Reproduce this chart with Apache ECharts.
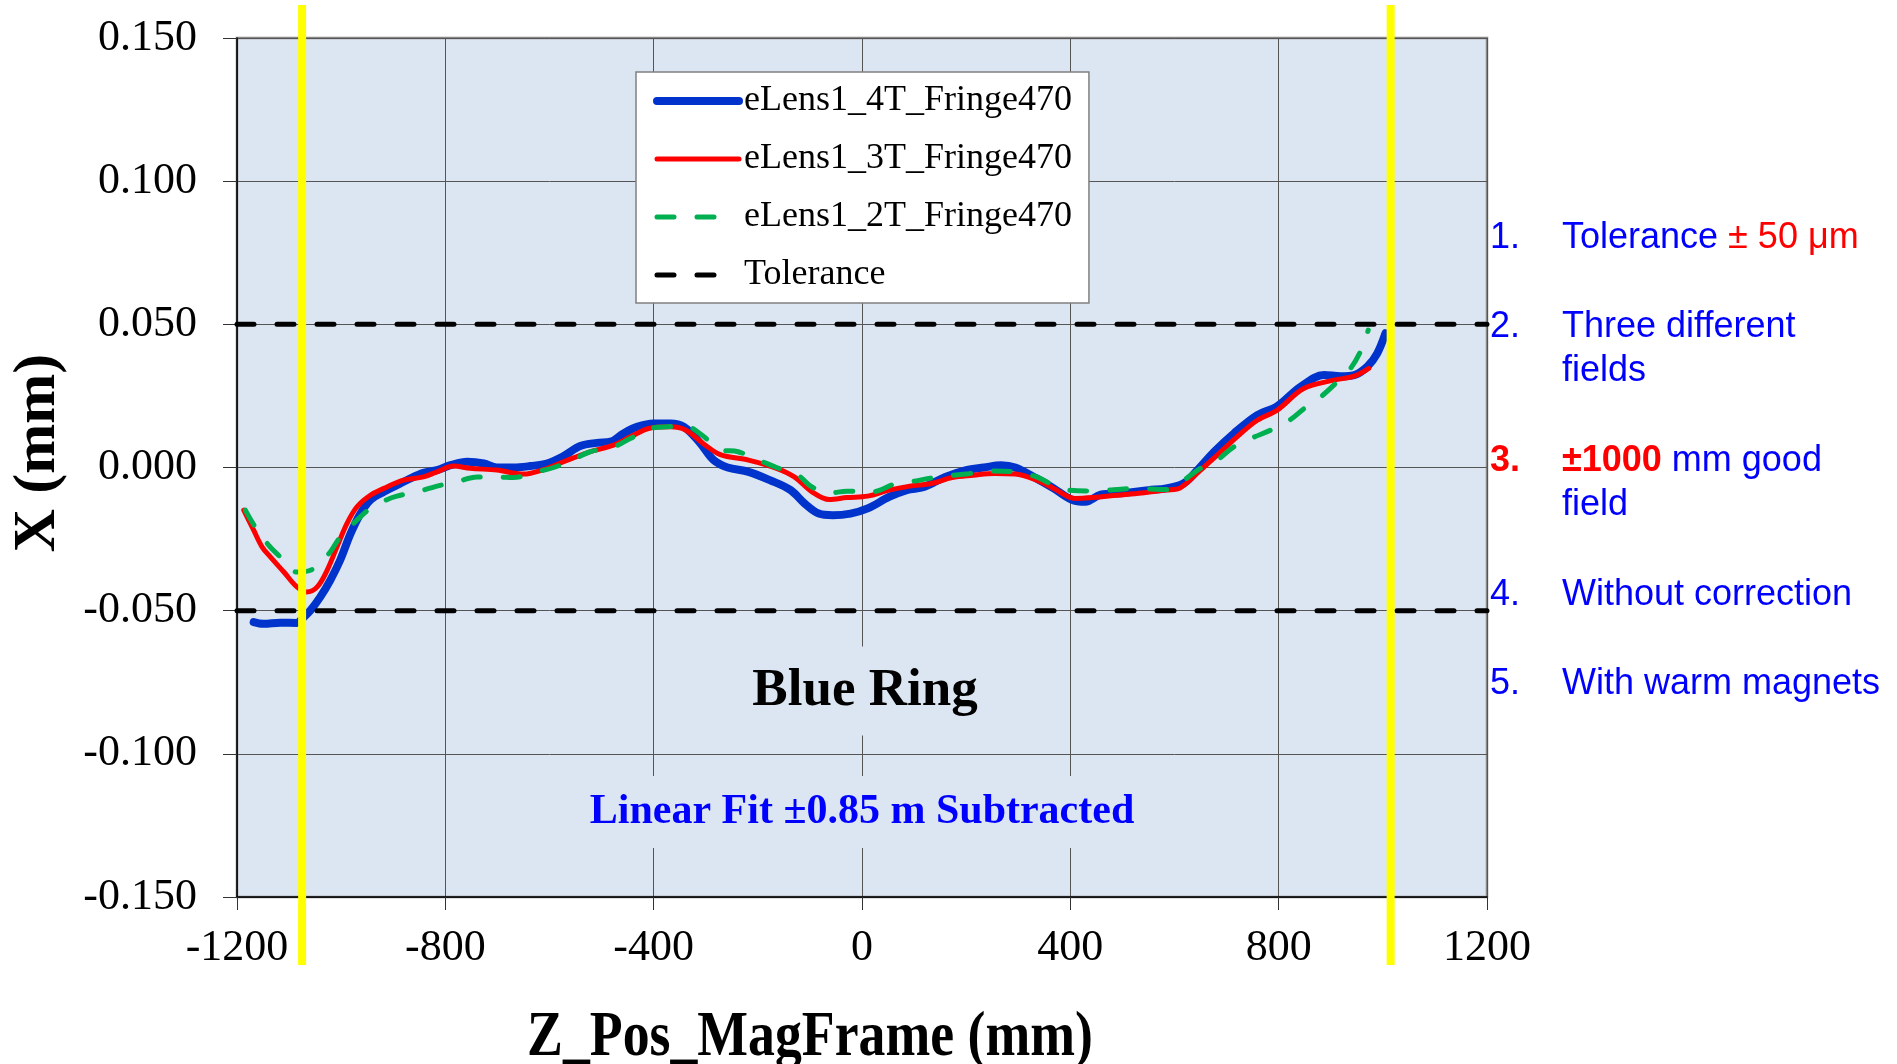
<!DOCTYPE html>
<html>
<head>
<meta charset="utf-8">
<title>Blue Ring - eLens1 X offset</title>
<script src="https://cdn.jsdelivr.net/npm/echarts@6.0.0/dist/echarts.min.js"></script>
<style>
  html, body { margin: 0; padding: 0; background: #fff; }
  #main { width: 1897px; height: 1064px; }
</style>
</head>
<body>
<div id="main"></div>
<script>
// ---- data (Z in mm, X in mm) ----
var z4T = [-1168,-1149,-1117,-1085,-1075,-1059,-1040,-1021,-1002,-982,-963,-944,-918,-893,-867,-842,-816,-790,-758,-726,-701,-669,-637,-605,-573,-541,-509,-483,-458,-432,-400,-368,-342,-312,-285,-258,-218,-177,-137,-110,-83,-56,-22,11,52,86,119,160,200,234,267,294,335,368,402,429,458,503,550,584,618,644,676,714,759,797,842,887,919,945,970,989,1005];
var x4T = [-0.0540,-0.0546,-0.0542,-0.0543,-0.0528,-0.0499,-0.0452,-0.0394,-0.0324,-0.0231,-0.0161,-0.0114,-0.0085,-0.0062,-0.0038,-0.0019,-0.0009,0.0008,0.0020,0.0014,0.0000,0.0000,0.0005,0.0014,0.0040,0.0075,0.0086,0.0090,0.0119,0.0142,0.0154,0.0154,0.0142,0.0088,0.0026,0.0000,-0.0015,-0.0044,-0.0079,-0.0126,-0.0161,-0.0167,-0.0161,-0.0143,-0.0103,-0.0079,-0.0068,-0.0033,-0.0009,0.0000,0.0008,0.0000,-0.0038,-0.0073,-0.0112,-0.0120,-0.0095,-0.0089,-0.0079,-0.0073,-0.0055,-0.0009,0.0055,0.0119,0.0183,0.0214,0.0282,0.0323,0.0319,0.0323,0.0352,0.0398,0.0469];

var z3T = [-1187,-1168,-1152,-1136,-1110,-1085,-1066,-1046,-1027,-1008,-989,-970,-944,-912,-880,-842,-816,-784,-752,-701,-650,-611,-573,-522,-477,-445,-406,-368,-339,-305,-272,-218,-164,-130,-96,-63,-29,11,52,92,133,173,214,254,294,335,368,409,443,490,537,584,612,650,682,720,759,797,848,906,945,973];
var x3T = [-0.0149,-0.0219,-0.0277,-0.0312,-0.0365,-0.0417,-0.0435,-0.0417,-0.0359,-0.0277,-0.0196,-0.0138,-0.0097,-0.0068,-0.0044,-0.0033,-0.0015,0.0005,-0.0003,-0.0009,-0.0023,-0.0007,0.0020,0.0055,0.0078,0.0107,0.0138,0.0142,0.0131,0.0084,0.0045,0.0026,-0.0003,-0.0033,-0.0085,-0.0112,-0.0105,-0.0100,-0.0079,-0.0065,-0.0056,-0.0035,-0.0027,-0.0021,-0.0023,-0.0044,-0.0073,-0.0108,-0.0105,-0.0097,-0.0089,-0.0079,-0.0070,-0.0009,0.0043,0.0107,0.0165,0.0200,0.0276,0.0305,0.0319,0.0346];

var z2T = [-1184,-1165,-1139,-1117,-1085,-1059,-1040,-1021,-1002,-970,-944,-918,-893,-854,-816,-778,-739,-701,-669,-624,-592,-554,-522,-477,-445,-406,-374,-339,-310,-272,-238,-191,-164,-123,-96,-63,-29,18,65,92,146,200,240,294,335,368,395,443,523,584,618,650,682,714,746,784,817,849,881,913,938,957,972];
var x2T = [-0.0149,-0.0208,-0.0272,-0.0312,-0.0365,-0.0359,-0.0330,-0.0295,-0.0243,-0.0184,-0.0143,-0.0117,-0.0100,-0.0085,-0.0065,-0.0050,-0.0033,-0.0033,-0.0035,-0.0015,0.0000,0.0028,0.0055,0.0072,0.0101,0.0136,0.0142,0.0145,0.0117,0.0063,0.0055,0.0020,0.0000,-0.0027,-0.0068,-0.0089,-0.0083,-0.0085,-0.0056,-0.0050,-0.0033,-0.0023,-0.0012,-0.0015,-0.0033,-0.0062,-0.0079,-0.0082,-0.0073,-0.0077,-0.0044,-0.0003,0.0026,0.0072,0.0101,0.0130,0.0160,0.0206,0.0247,0.0300,0.0346,0.0405,0.0480];

var seriesNames = ['eLens1_4T_Fringe470', 'eLens1_3T_Fringe470', 'eLens1_2T_Fringe470', 'Tolerance'];
var seriesColors = ['#0033CC', '#FF0000', '#00B050', '#000000'];
var tolerance = [0.05, -0.05];
var zRange = [-1200, 1200];
var goodFieldEdges = [-1075, 1015];   // yellow markers
var yTicks = [-0.15, 0.15, 0.05];
var xTicks = [-1200, 1200, 400];

var notes = [
  { num: '1.', lines: ['{b|Tolerance }{r|± 50 μm}'] },
  { num: '2.', lines: ['Three different', 'fields'] },
  { num: '3.', lines: ['{rb|±1000}{b| mm good}', 'field'], red: true },
  { num: '4.', lines: ['Without correction'] },
  { num: '5.', lines: ['With warm magnets'] }
];

function zip(zs, xs) {
  return zs.map(function (z, i) { return [z, xs[i]]; });
}

var SERIF = '"Liberation Serif", "Times New Roman", serif';
var SANS = '"Liberation Sans", Arial, sans-serif';
var BLUE_TXT = '#0000FF';
var RED_TXT = '#FF0000';
var DASH = [17, 23];

var chart = echarts.init(document.getElementById('main'));

var series = [
  {
    name: seriesNames[0], type: 'line', data: zip(z4T, x4T),
    symbol: 'none', smooth: 0.35, z: 3,
    lineStyle: { color: seriesColors[0], width: 8, cap: 'round', join: 'round' },
    itemStyle: { color: seriesColors[0] }
  },
  {
    name: seriesNames[1], type: 'line', data: zip(z3T, x3T),
    symbol: 'none', smooth: 0.35, z: 4,
    lineStyle: { color: seriesColors[1], width: 5, cap: 'round', join: 'round' },
    itemStyle: { color: seriesColors[1] }
  },
  {
    name: seriesNames[2], type: 'line', data: zip(z2T, x2T),
    symbol: 'none', smooth: 0.35, z: 5,
    lineStyle: { color: seriesColors[2], width: 5, type: DASH, cap: 'round' },
    itemStyle: { color: seriesColors[2] }
  }
];

tolerance.forEach(function (t) {
  series.push({
    name: seriesNames[3], type: 'line', symbol: 'none', z: 6, silent: true,
    data: [[zRange[0], t], [zRange[1], t]],
    lineStyle: { color: seriesColors[3], width: 5, type: DASH, cap: 'round' },
    itemStyle: { color: seriesColors[3] }
  });
});

// yellow good-field markers live on a taller hidden grid so they overrun the plot
goodFieldEdges.forEach(function (z) {
  series.push({
    type: 'line', xAxisIndex: 1, yAxisIndex: 1, symbol: 'none', z: 10, silent: true,
    data: [[z, 0], [z, 1]],
    lineStyle: { color: '#FFFF00', width: 8 }
  });
});

var legendWidths = [8, 5, 5, 5];
var legendData = seriesNames.map(function (n, i) {
  return {
    name: n,
    lineStyle: {
      color: seriesColors[i], width: legendWidths[i], cap: 'round',
      type: i >= 2 ? [17, 23, 17, 80] : 'solid'
    }
  };
});

var graphics = [];
var noteY = [238, 327, 461, 595, 684];
notes.forEach(function (n, i) {
  graphics.push({
    type: 'text', x: 1490, y: noteY[i], z: 20,
    style: {
      text: n.num, font: (n.red ? 'bold ' : '') + '36px ' + SANS,
      fill: n.red ? RED_TXT : BLUE_TXT, verticalAlign: 'middle', align: 'left'
    }
  });
  n.lines.forEach(function (ln, j) {
    graphics.push({
      type: 'text', x: 1562, y: noteY[i] + j * 44, z: 20,
      style: {
        text: ln, font: '36px ' + SANS, fill: BLUE_TXT,
        verticalAlign: 'middle', align: 'left',
        rich: {
          b: { fontFamily: SANS, fontSize: 36, fill: BLUE_TXT, color: BLUE_TXT },
          r: { fontFamily: SANS, fontSize: 36, fill: RED_TXT, color: RED_TXT },
          rb: { fontFamily: SANS, fontSize: 36, fontWeight: 'bold', fill: RED_TXT, color: RED_TXT }
        }
      }
    });
  });
});

graphics.push(
  {
    type: 'text', x: 865, y: 691, z: 1,
    style: {
      text: 'Blue Ring', font: 'bold 53px ' + SERIF, fill: '#000',
      align: 'center', verticalAlign: 'middle',
      backgroundColor: '#DCE6F2', padding: [18, 14]
    }
  },
  {
    type: 'text', x: 862, y: 812, z: 1,
    style: {
      text: 'Linear Fit ±0.85 m Subtracted', font: 'bold 42px ' + SERIF, fill: BLUE_TXT,
      align: 'center', verticalAlign: 'middle',
      backgroundColor: '#DCE6F2', padding: [15, 10]
    }
  },
  {
    // axis title; the reference cuts its descenders off at the bottom edge too
    type: 'text', x: 810, y: 1006, scaleX: 0.84, z: 20,
    style: {
      text: 'Z_Pos_MagFrame (mm)', font: 'bold 64px ' + SERIF, fill: '#000',
      align: 'center', verticalAlign: 'top'
    }
  },
  {
    type: 'text', x: 38, y: 453, rotation: Math.PI / 2, z: 20,
    style: {
      text: 'X (mm)', font: 'bold 60px ' + SERIF, fill: '#000',
      align: 'center', verticalAlign: 'middle'
    }
  }
);

var option = {
  animation: false,
  backgroundColor: '#fff',
  grid: [
    { left: 237, right: 410, top: 38, bottom: 167, show: true,
      backgroundColor: '#DCE6F2', borderColor: '#888', borderWidth: 2.5 },
    { left: 237, right: 410, top: 5, bottom: 99, show: false }
  ],
  legend: {
    orient: 'vertical', left: 636, top: 72,
    data: legendData,
    selectedMode: false,
    backgroundColor: '#fff', borderColor: '#808080', borderWidth: 1.5,
    padding: [9, 17, 8, 17], itemGap: 18, itemWidth: 82, itemHeight: 14,
    itemStyle: { opacity: 0 },
    textStyle: { fontFamily: SERIF, fontSize: 36, color: '#000', lineHeight: 40 }
  },
  xAxis: [
    {
      type: 'value', gridIndex: 0, min: xTicks[0], max: xTicks[1], interval: xTicks[2],
      axisLine: { show: true, onZero: false, lineStyle: { color: '#000', width: 1.5 } },
      axisTick: { show: true, length: 13, lineStyle: { color: '#333', width: 1 } },
      axisLabel: {
        margin: 29, fontFamily: SERIF, fontSize: 44, color: '#000',
        formatter: function (v) { return String(v); }
      },
      splitLine: { show: true, lineStyle: { color: '#555', width: 1 } }
    },
    { type: 'value', gridIndex: 1, min: xTicks[0], max: xTicks[1], show: false }
  ],
  yAxis: [
    {
      type: 'value', gridIndex: 0, min: yTicks[0], max: yTicks[1], interval: yTicks[2],
      axisLine: { show: true, onZero: false, lineStyle: { color: '#000', width: 1.5 } },
      axisTick: { show: true, length: 14, lineStyle: { color: '#333', width: 1 } },
      axisLabel: {
        margin: 40, fontFamily: SERIF, fontSize: 44, color: '#000',
        formatter: function (v) { return v.toFixed(3); }
      },
      splitLine: { show: true, lineStyle: { color: '#555', width: 1 } }
    },
    { type: 'value', gridIndex: 1, min: 0, max: 1, show: false }
  ],
  graphic: graphics,
  series: series
};

chart.setOption(option);
</script>
</body>
</html>
